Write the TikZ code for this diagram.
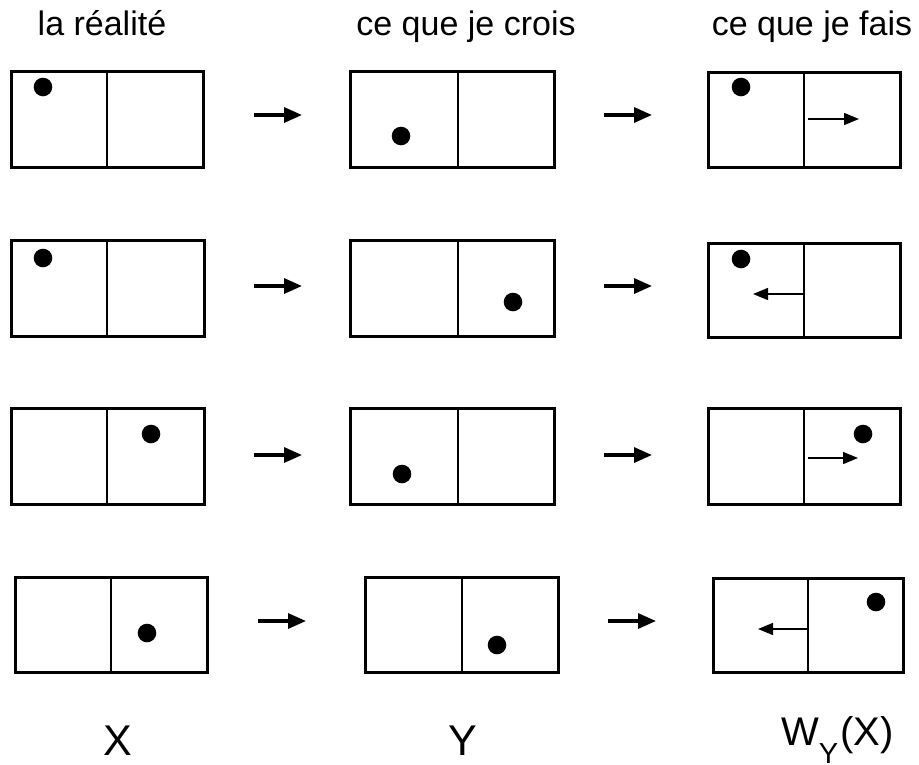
\documentclass[tikz,border=0pt]{standalone}
\usepackage{fontspec}
\setmainfont{Liberation Sans}
\usetikzlibrary{arrows.meta}
\tikzset{
  boxframe/.style={line width=3pt},
  divline/.style={line width=1.3pt},
  bigarrow/.style={line width=3.2pt,-{Triangle[length=18pt,width=15pt]}},
  smallarrow/.style={line width=1.4pt,-{Triangle[length=15pt,width=12pt]}},
  headtext/.style={anchor=base,font=\fontsize{34}{40}\selectfont,inner sep=0pt},
  bottext/.style={anchor=base,font=\fontsize{43}{50}\selectfont,inner sep=0pt},
  ballstyle/.style={fill=black}
}
\newcommand\drawcell[5]{%
  \draw[boxframe] (#1,#2) rectangle (#3,#4);
  \draw[divline] (#5,#2) -- (#5,#4);
}
\begin{document}
\begin{tikzpicture}[x=1pt,y=-1pt]
\useasboundingbox (0,0) rectangle (919,764);
% headers
\node[headtext] (h1) at (102,35) {la réalité};
\node[headtext] (h2) at (466,35) {ce que je crois};
\node[headtext] (h3) at (812,35) {ce que je fais};
% row 1
\drawcell{11}{71}{203}{167}{107}
\fill[ballstyle] (43,87) circle[radius=9.3pt];
\drawcell{350}{71}{554}{167}{458}
\fill[ballstyle] (401,136) circle[radius=9.3pt];
\drawcell{708}{72}{900}{167}{804}
\fill[ballstyle] (741,87) circle[radius=9.3pt];
\coordinate (s1a) at (808,119); \coordinate (s1b) at (859,119);
\draw[smallarrow] (s1a) -- (s1b);
\coordinate (a1a) at (254,115); \coordinate (a1b) at (302,115);
\coordinate (b1a) at (604,115); \coordinate (b1b) at (652,115);
\draw[bigarrow] (a1a) -- (a1b);
\draw[bigarrow] (b1a) -- (b1b);
% row 2
\drawcell{11}{240}{204}{336}{107}
\fill[ballstyle] (43,258) circle[radius=9.3pt];
\drawcell{350}{240}{554}{336}{458}
\fill[ballstyle] (513,302) circle[radius=9.3pt];
\drawcell{708}{243}{900}{337}{804}
\fill[ballstyle] (741,259) circle[radius=9.3pt];
\coordinate (s2a) at (804,294); \coordinate (s2b) at (753,294);
\draw[smallarrow] (s2a) -- (s2b);
\coordinate (a2a) at (254,286); \coordinate (a2b) at (302,286);
\coordinate (b2a) at (604,286); \coordinate (b2b) at (652,286);
\draw[bigarrow] (a2a) -- (a2b);
\draw[bigarrow] (b2a) -- (b2b);
% row 3
\drawcell{11}{408}{204}{504}{107}
\fill[ballstyle] (151,434) circle[radius=9.3pt];
\drawcell{350}{408}{554}{504}{458}
\fill[ballstyle] (402,474) circle[radius=9.3pt];
\drawcell{708}{408}{900}{504}{804}
\fill[ballstyle] (863,434) circle[radius=9.3pt];
\coordinate (s3a) at (808,458); \coordinate (s3b) at (858,458);
\draw[smallarrow] (s3a) -- (s3b);
\coordinate (a3a) at (254,455); \coordinate (a3b) at (302,455);
\coordinate (b3a) at (604,455); \coordinate (b3b) at (652,455);
\draw[bigarrow] (a3a) -- (a3b);
\draw[bigarrow] (b3a) -- (b3b);
% row 4
\drawcell{15}{577}{207}{672}{111}
\fill[ballstyle] (147,633) circle[radius=9.3pt];
\drawcell{365}{577}{558}{672}{462}
\fill[ballstyle] (497,645) circle[radius=9.3pt];
\drawcell{713}{578}{903}{672}{808}
\fill[ballstyle] (876,602) circle[radius=9.3pt];
\coordinate (s4a) at (808,629); \coordinate (s4b) at (758,629);
\draw[smallarrow] (s4a) -- (s4b);
\coordinate (a4a) at (258,621); \coordinate (a4b) at (306,621);
\coordinate (b4a) at (608,621); \coordinate (b4b) at (656,621);
\draw[bigarrow] (a4a) -- (a4b);
\draw[bigarrow] (b4a) -- (b4b);
% bottom labels
\node[bottext] (lx) at (118,755) {X};
\node[bottext] (ly) at (463,755) {Y};
\node[anchor=base west,inner sep=0pt,font=\fontsize{40}{44}\selectfont] (lw) at (781,745)
  {W\raisebox{-18pt}{\fontsize{29}{30}\selectfont Y}\kern2pt(X)};
\end{tikzpicture}
\end{document}
